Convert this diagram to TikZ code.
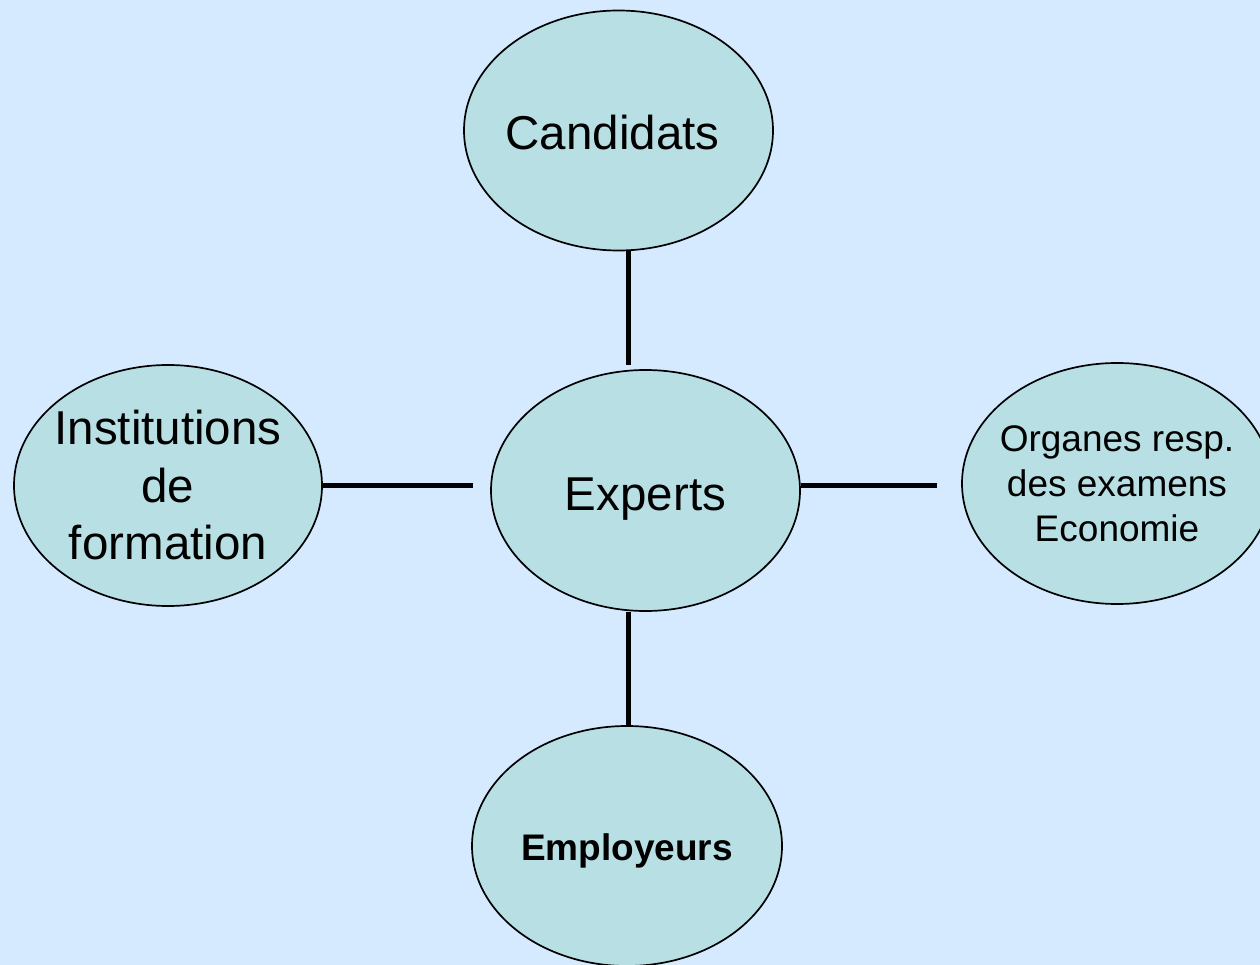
\documentclass[tikz,border=0pt]{standalone}
\usepackage{fontspec}
\setmainfont{Liberation Sans}
\usetikzlibrary{shapes.geometric}
\definecolor{bgblue}{HTML}{D6EAFF}
\definecolor{ellfill}{HTML}{B8E0E4}
\tikzset{
  bubble/.style={ellipse, draw=black, line width=1.7pt, fill=ellfill,
    inner sep=-45pt, minimum width=309pt, minimum height=240pt, align=center},
  bigtext/.style={font=\fontsize{47.5}{57.5}\selectfont},
  smalltext/.style={font=\fontsize{37}{45}\selectfont},
  boldtext/.style={font=\fontsize{37}{45}\selectfont\bfseries},
  link/.style={line width=5pt, draw=black}
}
\begin{document}
\begin{tikzpicture}[x=1pt, y=-1pt]
\fill[bgblue] (0,0) rectangle (1260,965);
\useasboundingbox (0,0) rectangle (1260,965);
\node[bubble, bigtext, text height=39pt, text depth=0pt] (cand) at (618.5,130.5) {Candidats\hspace{12pt}};
\node[bubble, bigtext, minimum height=241pt, text height=39pt, text depth=0pt] (exp) at (645.5,490.5) {Experts};
\node[bubble, bigtext, minimum width=308pt, minimum height=241pt] (inst) at (168,485.5) {Institutions\\de\\formation};
\node[bubble, smalltext, minimum width=310pt, minimum height=241pt] (org) at (1117,483.5) {Organes resp.\\des examens\\Economie};
\node[bubble, boldtext, minimum width=310pt, text height=28pt, text depth=0pt] (emp) at (627,846) {Employeurs};
\coordinate (t1) at (628,365);
\coordinate (l1) at (473,485);
\coordinate (r1) at (937,485);
\coordinate (b1) at (628,612);
\draw[link] (cand.south -| t1) -- (t1);
\draw[link] (inst.east |- l1) -- (l1);
\draw[link] (exp.east |- r1) -- (r1);
\draw[link] (emp.north -| b1) -- (b1);
\end{tikzpicture}
\end{document}
